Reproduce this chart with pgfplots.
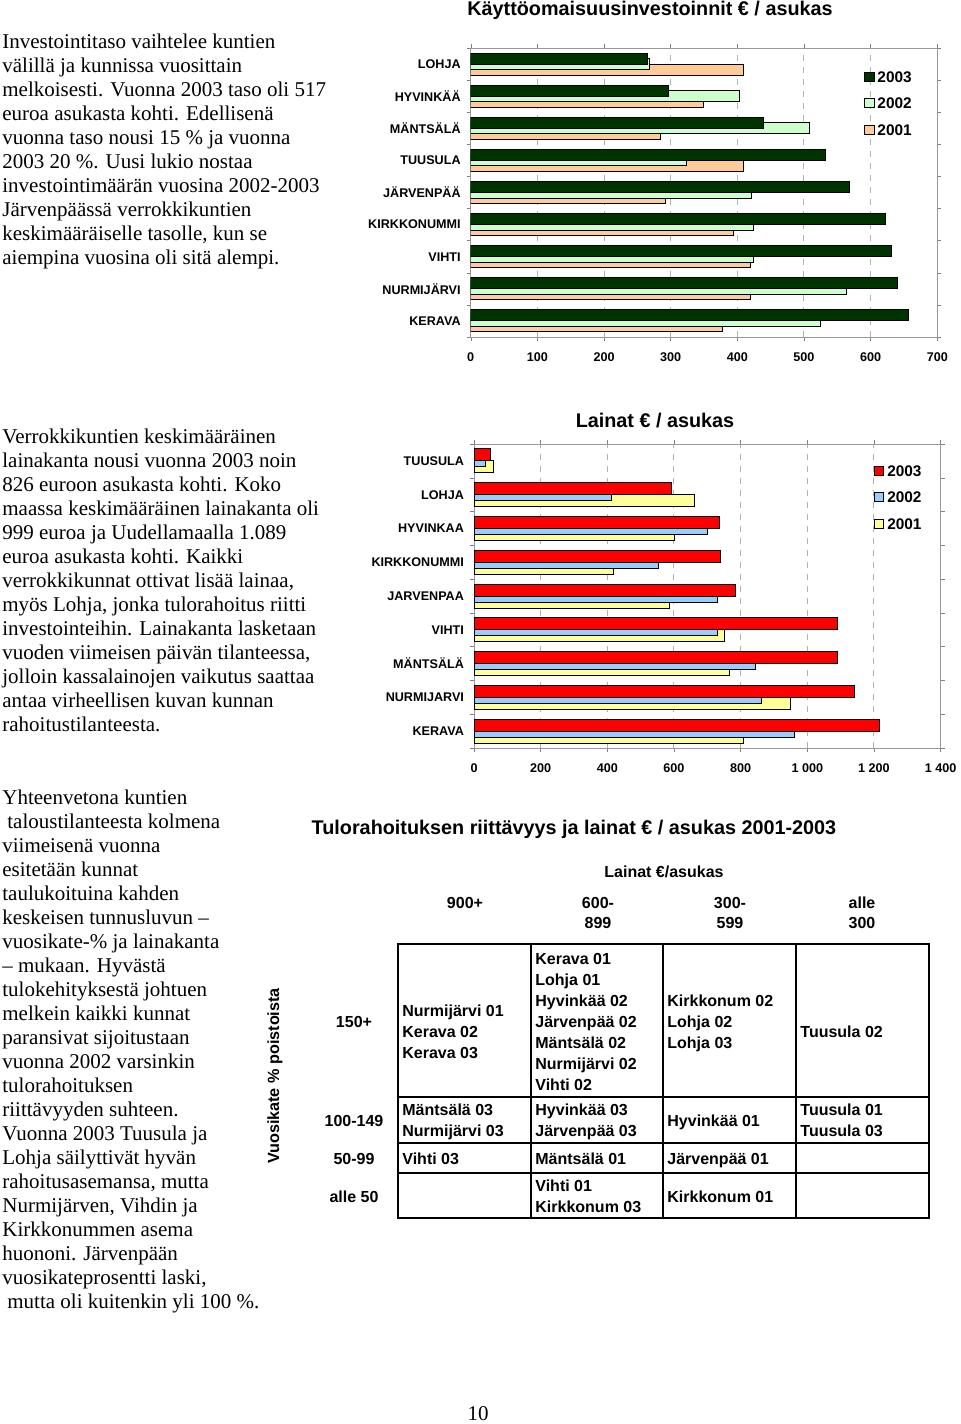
\documentclass[border=0pt]{standalone}
\usepackage{pgfplots}
\pgfplotsset{compat=1.18}
\usepackage{fontspec}
\setmainfont{Liberation Serif}
\newfontfamily\arial{Liberation Sans}

% colours
\definecolor{inv03}{RGB}{0,51,0}
\definecolor{inv02}{RGB}{204,255,204}
\definecolor{inv01}{RGB}{255,204,153}
\definecolor{lai03}{RGB}{255,0,0}
\definecolor{lai02}{RGB}{153,204,255}
\definecolor{lai01}{RGB}{255,255,153}

\newcommand\bodyfont{\fontsize{10.5}{12}\selectfont}
\newcommand\tickfont{\arial\bfseries\fontsize{6.3}{7.5}\selectfont}
\newcommand\legfont{\arial\bfseries\fontsize{7.7}{9}\selectfont}
\newcommand\titlefont{\arial\bfseries\fontsize{9.9}{12}\selectfont}
\newcommand\cellfont{\arial\bfseries\fontsize{8}{10}\selectfont}
\newcommand\cell[3]{\node[anchor=base west,inner sep=0pt,font=\cellfont] at (#1,#2+6) {#3};}
\newcommand\ctr[3]{\node[anchor=base,inner sep=0pt,font=\cellfont] at (#1,#2+6) {#3};}

\pgfplotsset{
  kbar/.style={
    scale only axis, width=233.3pt,
    xbar, ymin=-0.5, ymax=8.5,
    ytick={0,...,8}, minor ytick={-0.5,0.5,...,8.5},
    every major y tick/.style={draw=none},
    tick align=outside, major tick length=2pt, minor tick length=2pt,
    tick style={gray}, axis line style={gray!80},
    xmajorgrids, grid style={dashed, gray!60, line width=0.5pt},
    ticklabel style={font=\tickfont},
    xticklabel style={yshift=-2.5pt},
    yticklabel style={xshift=0.5pt},
    reverse legend,
    legend image code/.code={\draw[#1] (0pt,-2.3pt) rectangle (4.6pt,2.3pt);},
    legend style={draw=none, fill=none, inner sep=0pt, font=\legfont,
      row sep=4.9pt, legend cell align=left,
      nodes={inner sep=1.4pt, text height=5.5pt, text depth=0pt},
      anchor=north west},
  },
}

\begin{document}
\begin{tikzpicture}[x=0.5pt,y=-0.5pt]
\path[use as bounding box] (0,0) rectangle (960,1424);

% ---- texts on the left
\node[anchor=base west,inner sep=0pt] at (2,48) {\parbox[t]{220pt}{\bodyfont\raggedright
Investointitaso vaihtelee kuntien\\
välillä ja kunnissa vuosittain\\
melkoisesti. Vuonna 2003 taso oli 517\\
euroa asukasta kohti. Edellisenä\\
vuonna taso nousi 15 \% ja vuonna\\
2003 20 \%. Uusi lukio nostaa\\
investointimäärän vuosina 2002-2003\\
Järvenpäässä verrokkikuntien\\
keskimääräiselle tasolle, kun se\\
aiempina vuosina oli sitä alempi.}};

\node[anchor=base west,inner sep=0pt] at (2,443) {\parbox[t]{220pt}{\bodyfont\raggedright
Verrokkikuntien keskimääräinen\\
lainakanta nousi vuonna 2003 noin\\
826 euroon asukasta kohti. Koko\\
maassa keskimääräinen lainakanta oli\\
999 euroa ja Uudellamaalla 1.089\\
euroa asukasta kohti. Kaikki\\
verrokkikunnat ottivat lisää lainaa,\\
myös Lohja, jonka tulorahoitus riitti\\
investointeihin. Lainakanta lasketaan\\
vuoden viimeisen päivän tilanteessa,\\
jolloin kassalainojen vaikutus saattaa\\
antaa virheellisen kuvan kunnan\\
rahoitustilanteesta.}};

\node[anchor=base west,inner sep=0pt] at (2,804) {\parbox[t]{220pt}{\bodyfont\raggedright
Yhteenvetona kuntien\\
\hspace*{2.5pt}taloustilanteesta kolmena\\
viimeisenä vuonna\\
esitetään kunnat\\
taulukoituina kahden\\
keskeisen tunnusluvun –\\
vuosikate-\% ja lainakanta\\
– mukaan. Hyvästä\\
tulokehityksestä johtuen\\
melkein kaikki kunnat\\
paransivat sijoitustaan\\
vuonna 2002 varsinkin\\
tulorahoituksen\\
riittävyyden suhteen.\\
Vuonna 2003 Tuusula ja\\
Lohja säilyttivät hyvän\\
rahoitusasemansa, mutta\\
Nurmijärven, Vihdin ja\\
Kirkkonummen asema\\
huononi. Järvenpään\\
vuosikateprosentti laski,\\
\hspace*{2.5pt}mutta oli kuitenkin yli 100 \%.}};

% ---- chart 1
\node[font=\titlefont,inner sep=0pt] at (650,10) {Käyttöomaisuusinvestoinnit € / asukas};
\begin{axis}[kbar,
  at={(235.35pt,-168.5pt)}, anchor=south west, height=144.5pt,
  bar width=5.5pt,
  xmin=0, xmax=700, xtick={0,100,...,700},
  xticklabels={0,100,200,300,400,500,600,700},
  yticklabels={KERAVA,NURMIJÄRVI,VIHTI,KIRKKONUMMI,JÄRVENPÄÄ,TUUSULA,MÄNTSÄLÄ,HYVINKÄÄ,LOHJA},
  legend style={at={(0.843,0.93)}},
]
\addplot[fill=inv01, draw=black, line width=0.5pt, bar shift=-2.75pt] coordinates {
 (378,0) (420,1) (420,2) (394,3) (292,4) (409,5) (285,6) (349,7) (409,8)};
\addplot[fill=inv02, draw=black, line width=0.5pt, bar shift=0pt] coordinates {
 (525,0) (564,1) (425,2) (425,3) (422,4) (324,5) (508,6) (403,7) (268,8)};
\addplot[fill=inv03, draw=black, line width=0.5pt, bar shift=2.75pt] coordinates {
 (657,0) (640,1) (632,2) (623,3) (568,4) (533,5) (440,6) (297,7) (265,8)};
\legend{2001,2002,2003}
\end{axis}

% ---- chart 2
\node[font=\titlefont,inner sep=0pt] at (655,421) {Lainat € / asukas};
\begin{axis}[kbar,
  at={(237pt,-374pt)}, anchor=south west, height=152pt,
  bar width=6pt,
  xmin=0, xmax=1400, xtick={0,200,...,1400},
  xticklabels={0,200,400,600,800,1 000,1 200,1 400},
  yticklabels={KERAVA,NURMIJARVI,MÄNTSÄLÄ,VIHTI,JARVENPAA,KIRKKONUMMI,HYVINKAA,LOHJA,TUUSULA},
  legend style={at={(0.857,0.94)}},
]
\addplot[fill=lai01, draw=black, line width=0.5pt, bar shift=-3pt] coordinates {
 (809,0) (951,1) (767,2) (751,3) (586,4) (420,5) (601,6) (663,7) (58,8)};
\addplot[fill=lai02, draw=black, line width=0.5pt, bar shift=0pt] coordinates {
 (963,0) (863,1) (844,2) (731,3) (731,4) (555,5) (701,6) (412,7) (34,8)};
\addplot[fill=lai03, draw=black, line width=0.5pt, bar shift=3pt] coordinates {
 (1218,0) (1141,1) (1091,2) (1091,3) (786,4) (740,5) (736,6) (593,7) (50,8)};
\legend{2001,2002,2003}
\end{axis}

% ---- table
\node[font=\titlefont,inner sep=0pt] at (574,829) {Tulorahoituksen riittävyys ja lainat € / asukas 2001-2003};
\ctr{664}{871}{Lainat €/asukas}
\ctr{465}{902}{900+}
\ctr{598}{902}{600-}\ctr{598}{922}{899}
\ctr{730}{902}{300-}\ctr{730}{922}{599}
\ctr{862}{902}{alle}\ctr{862}{922}{300}
\ctr{354}{1021}{150+}
\ctr{354}{1120}{100-149}
\ctr{354}{1158}{50-99}
\ctr{354}{1196}{alle 50}
\node[rotate=90,font={\arial\bfseries\fontsize{8.1}{10}\selectfont},inner sep=0pt] at (275,1076) {Vuosikate \% poistoista};

\draw[line width=1pt] (398,944) rectangle (929,1218);
\foreach \xx in {531,663,796} \draw[line width=1pt] (\xx,944) -- (\xx,1218);
\foreach \yy in {1097,1143,1173} \draw[line width=1pt] (398,\yy) -- (929,\yy);

\cell{402}{1010}{Nurmijärvi 01}\cell{402}{1031}{Kerava 02}\cell{402}{1052}{Kerava 03}
\cell{535}{958}{Kerava 01}\cell{535}{979}{Lohja 01}\cell{535}{1000}{Hyvinkää 02}
\cell{535}{1021}{Järvenpää 02}\cell{535}{1042}{Mäntsälä 02}\cell{535}{1063}{Nurmijärvi 02}
\cell{535}{1084}{Vihti 02}
\cell{667}{1000}{Kirkkonum 02}\cell{667}{1021}{Lohja 02}\cell{667}{1042}{Lohja 03}
\cell{800}{1031}{Tuusula 02}
\cell{402}{1109}{Mäntsälä 03}\cell{402}{1130}{Nurmijärvi 03}
\cell{535}{1109}{Hyvinkää 03}\cell{535}{1130}{Järvenpää 03}
\cell{667}{1120}{Hyvinkää 01}
\cell{800}{1109}{Tuusula 01}\cell{800}{1130}{Tuusula 03}
\cell{402}{1158}{Vihti 03}\cell{535}{1158}{Mäntsälä 01}\cell{667}{1158}{Järvenpää 01}
\cell{535}{1185}{Vihti 01}\cell{535}{1206}{Kirkkonum 03}
\cell{667}{1196}{Kirkkonum 01}

\node[font=\bodyfont,inner sep=0pt] at (478,1414) {10};
\end{tikzpicture}
\end{document}
